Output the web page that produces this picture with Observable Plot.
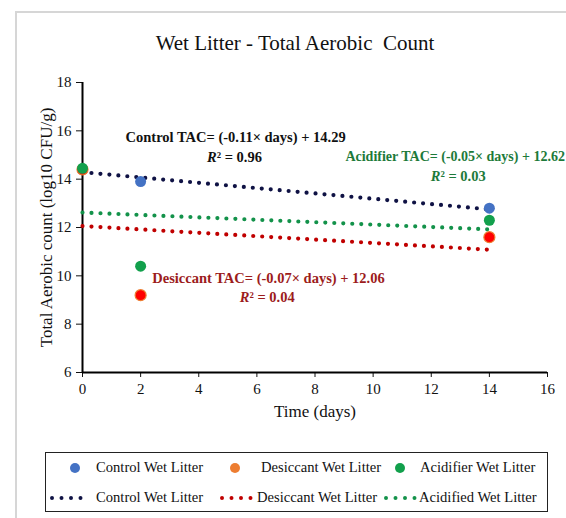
<!DOCTYPE html>
<html>
<head>
<meta charset="utf-8">
<script src="https://cdn.jsdelivr.net/npm/d3@7"></script>
<script src="https://cdn.jsdelivr.net/npm/@observablehq/plot@0.6"></script>
<style>
  html, body { margin: 0; padding: 0; background: #fff; overflow: hidden; }
  #wrap { position: relative; width: 566px; height: 518px; font-family: "Liberation Serif", "Times New Roman", serif; }
  #frame { position: absolute; left: 15px; top: 11px; width: 700px; height: 700px; border: 2px solid #d6d6d6; box-sizing: border-box; }
  #title { position: absolute; left: 0; top: 31px; width: 590px; text-align: center; font-size: 21px; color: #111; white-space: pre; }
  #chart { position: absolute; left: 0; top: 0; }
  #legend { position: absolute; left: 45px; top: 452px; width: 503px; height: 60px; border: 1.5px solid #222; box-sizing: border-box; background: #fff; font-size: 14.6px; color: #111; }
  .li { position: absolute; white-space: nowrap; }
  .li svg { position: absolute; }
</style>
</head>
<body>
<div id="wrap">
  <div id="frame"></div>
  <div id="chart"></div>
  <div id="title">Wet Litter - Total Aerobic  Count</div>
  <div id="legend"></div>
</div>
<script>
// ---- data ----
const days = [0, 2, 14];
const controlTAC = [14.4, 13.9, 12.8];
const desiccantTAC = [14.4, 9.2, 11.6];
const acidifierTAC = [14.45, 10.4, 12.3];

const trendNames = ["Control", "Desiccant", "Acidifier"];
const trendSlopes = [-0.11, -0.07, -0.05];
const trendIntercepts = [14.29, 12.06, 12.62];
const trendRange = [0, 14];
const trendR2 = ["0.96", "0.04", "0.03"];

const xTicks = [0, 2, 4, 6, 8, 10, 12, 14, 16];
const yTicks = [6, 8, 10, 12, 14, 16, 18];

const legendPoints = ["Control Wet Litter", "Desiccant Wet Litter", "Acidifier Wet Litter"];
const legendLines = ["Control Wet Litter", "Desiccant Wet Litter", "Acidified Wet Litter"];

// ---- styles ----
const FONT = '"Liberation Serif", "Times New Roman", serif';
const pointColors = {control: "#4472c4", desiccant: "#ff0000", desiccantEdge: "#ed7d31", acidifier: "#12a04c"};
const trendColors = ["#0f1244", "#c00000", "#13924a"];
const annColors = ["#111111", "#9c1c1c", "#1d7a3a"];

const toPts = (vals) => days.map((d, i) => ({x: d, y: vals[i]}));
const trendLines = trendNames.map((n, i) => trendRange.map(x => ({x, y: trendIntercepts[i] + trendSlopes[i] * x, name: n})));

// annotation anchors in data units
const ann = [
  {i: 0, x: 5.27, y1: 15.72, y2: 14.9, anchor: "middle", size: 14.5},
  {i: 1, x: 6.4, y1: 9.89, y2: 9.1, anchor: "middle", size: 14.5},
  {i: 2, x: 16.6, xr: 12.97, y1: 14.94, y2: 14.1, anchor: "end", size: 14}
];
const eqText = (i) => `${trendNames[i]} TAC= (${trendSlopes[i].toFixed(2)}× days) + ${trendIntercepts[i].toFixed(2)}`;

const marks = [
  Plot.axisY({ticks: yTicks, tickSize: 6, tickPadding: 5, label: null, fontSize: 15, fontFamily: FONT, tickFormat: d => d}),
  Plot.axisX({ticks: xTicks, tickSize: 5, tickPadding: 6, label: null, fontSize: 15, fontFamily: FONT, tickFormat: d => d}),
  Plot.ruleY([6], {stroke: "#000", strokeWidth: 2}),
  Plot.ruleX([0], {y1: 6, y2: 18, stroke: "#000", strokeWidth: 2}),
];
trendLines.forEach((ln, i) => {
  marks.push(Plot.line(ln, {x: "x", y: "y", stroke: trendColors[i], strokeWidth: 4.2, strokeDasharray: "0 9", strokeLinecap: "round"}));
});
marks.push(
  Plot.dot(toPts(controlTAC), {x: "x", y: "y", r: 5.5, fill: pointColors.control}),
  Plot.dot(toPts(desiccantTAC), {x: "x", y: "y", r: 5.5, fill: pointColors.desiccant, stroke: pointColors.desiccantEdge, strokeWidth: 1.2}),
  Plot.dot(toPts(acidifierTAC), {x: "x", y: "y", r: 5.5, fill: pointColors.acidifier})
);
ann.forEach(a => {
  const xr = a.xr ?? a.x;
  marks.push(Plot.text([a], {x: "x", y: "y1", text: () => eqText(a.i), fill: annColors[a.i], fontWeight: "bold", fontSize: a.size, fontFamily: FONT, textAnchor: a.anchor}));
  marks.push(Plot.text([a], {x: () => xr, y: "y2", text: () => "R", fill: annColors[a.i], fontWeight: "bold", fontStyle: "italic", fontSize: 14.5, fontFamily: FONT, textAnchor: "end", dx: -19}));
  marks.push(Plot.text([a], {x: () => xr, y: "y2", text: () => `² = ${trendR2[a.i]}`, fill: annColors[a.i], fontWeight: "bold", fontSize: 14.5, fontFamily: FONT, textAnchor: "start", dx: -19}));
});
marks.push(
  Plot.text(["Time (days)"], {frameAnchor: "bottom", dy: 44, fontSize: 17, fontFamily: FONT, fill: "#111", textAnchor: "middle"}),
  Plot.text(["Total Aerobic count (log10 CFU/g)"], {frameAnchor: "left", dx: -36, rotate: -90, fontSize: 17, fontFamily: FONT, fill: "#111", textAnchor: "middle"})
);

const chart = Plot.plot({
  width: 566,
  height: 430,
  marginLeft: 82,
  marginRight: 19,
  marginTop: 82,
  marginBottom: 58,
  x: {domain: [0, 16]},
  y: {domain: [6, 18]},
  style: {fontFamily: FONT, fontSize: "15px", color: "#111", background: "transparent", overflow: "visible"},
  marks
});
document.getElementById("chart").appendChild(chart);

// ---- legend ----
const leg = document.getElementById("legend");
const pCols = [pointColors.control, pointColors.desiccantEdge, pointColors.acidifier];
const pX = [22, 182, 347];
const tX = [50, 215, 374];
legendPoints.forEach((t, i) => {
  const d = document.createElement("div");
  d.className = "li";
  d.style.left = tX[i] + "px"; d.style.top = "6px";
  d.textContent = t;
  leg.appendChild(d);
  const s = d3.create("svg").attr("width", 14).attr("height", 14)
    .style("left", (pX[i] - tX[i]) + "px").style("top", "2px");
  s.append("circle").attr("cx", 7).attr("cy", 7).attr("r", 5).attr("fill", pCols[i]);
  d.appendChild(s.node());
});
const lX = [2, 172, 336];
const ltX = [50, 211, 373];
legendLines.forEach((t, i) => {
  const d = document.createElement("div");
  d.className = "li";
  d.style.left = ltX[i] + "px"; d.style.top = "36px";
  d.textContent = t;
  leg.appendChild(d);
  const s = d3.create("svg").attr("width", 46).attr("height", 14)
    .style("left", (lX[i] - ltX[i]) + "px").style("top", "2px");
  s.append("line").attr("x1", 4).attr("x2", 42).attr("y1", 7).attr("y2", 7)
    .attr("stroke", trendColors[i]).attr("stroke-width", 4).attr("stroke-dasharray", "0 9.5").attr("stroke-linecap", "round");
  d.appendChild(s.node());
});
</script>
</body>
</html>
